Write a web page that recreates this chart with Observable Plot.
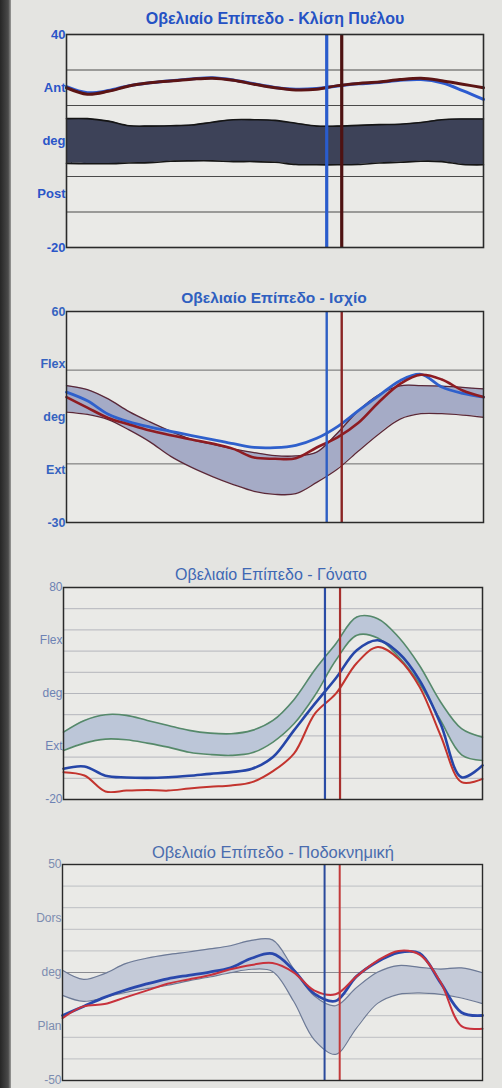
<!DOCTYPE html>
<html><head><meta charset="utf-8">
<script src="https://cdn.jsdelivr.net/npm/d3@7"></script>
<script src="https://cdn.jsdelivr.net/npm/@observablehq/plot@0.6"></script>
<style>
body{margin:0;background:#e4e4e1;width:502px;height:1088px;overflow:hidden;position:relative;font-family:"Liberation Sans",Arial,sans-serif}
#edge{position:absolute;left:0;top:0;width:11px;height:1088px;background:linear-gradient(to right,#262626,#4a4a4a 75%,#9c9c9a)}
.panel{position:absolute;left:0;width:502px}
.title{position:absolute;white-space:nowrap;transform:translate(-50%,-50%);font-family:"Liberation Sans",Arial,sans-serif}
</style></head><body>
<div id="edge"></div>
<div id="root"></div>
<script>
// gait cycle (%)
const pct = [0,5,10,15,20,25,30,35,40,45,50,55,60,65,70,75,80,85,90,95,100];
// toe-off vertical markers (% gait cycle): [blue, red]
const toeOff = [62.4, 66.0];

// ---- Pelvic tilt ----
const pelvisTitle = "Οβελιαίο Επίπεδο - Κλίση Πυέλου";
const pelvisTicks = [40,25,10,-5,-20];
const pelvisLabels = ["40","Ant","deg","Post","-20"];
const pelvisGrid = [30,20,0,-10];
const pelvisHi = [16.3,16.3,15.6,14.3,14.2,14.3,14.5,15.3,16.0,16.0,15.8,15.0,14.2,14.2,14.4,14.6,14.7,15.2,16.0,16.2,16.2];
const pelvisLo = [3.7,3.6,3.6,3.8,3.9,4.3,4.4,4.4,4.2,4.2,4.0,3.4,3.3,3.3,3.4,3.8,4.0,4.3,4.2,3.4,3.3];
const pelvisRed = [25.0,23.2,24.0,25.5,26.4,26.9,27.4,27.7,27.1,26.0,25.0,24.4,24.6,25.6,26.2,26.6,27.3,27.7,27.0,26.0,25.0];
const pelvisBlue = [25.3,23.6,24.2,25.6,26.4,27.0,27.5,27.8,27.2,26.1,25.1,24.6,24.8,25.5,26.1,26.5,27.1,27.3,26.4,24.2,21.7];

// ---- Hip ----
const hipTitle = "Οβελιαίο Επίπεδο - Ισχίο";
const hipTicks = [60,37.5,15,-7.5,-30];
const hipLabels = ["60","Flex","deg","Ext","-30"];
const hipGrid = [35,-5];
const hipHi = [28.4,26.7,22.7,17.3,12.9,8.9,5.5,3.3,1.4,-0.2,-1.5,-1.6,0.0,8.2,17.7,24.6,28.3,28.4,28.2,27.6,27.0];
const hipLo = [17.1,16.1,13.9,9.5,4.4,-1.8,-6.5,-10.4,-13.8,-16.7,-18.0,-17.7,-12.9,-7.2,0.5,7.9,14.1,16.4,16.4,15.8,14.9];
const hipRed = [23.5,19.0,14.6,11.8,9.2,7.2,5.4,3.7,1.4,-2.3,-2.8,-2.6,2.0,6.3,12.5,21.5,29.1,33.0,31.0,26.3,23.5];
const hipBlue = [25.6,21.9,16.2,12.9,10.7,8.9,7.1,5.4,3.6,2.0,1.9,2.9,5.9,10.9,17.7,24.2,30.5,33.2,27.8,25.1,23.5];

// ---- Knee ----
const kneeTitle = "Οβελιαίο Επίπεδο - Γόνατο";
const kneeTicks = [80,55,30,5,-20];
const kneeLabels = ["80","Flex","deg","Ext","-20"];
const kneeGrid = [70,60,50,40,30,20,10,0,-10];
const kneeHi = [11.8,17.3,20.0,19.7,17.3,14.9,12.6,11.3,11.0,12.6,17.3,27.1,41.2,53.5,66.1,65.3,56.5,43.1,26.0,13.4,9.4];
const kneeLo = [3.1,6.6,8.5,8.2,6.6,4.7,2.3,1.2,0.8,2.0,7.1,15.7,29.1,45.7,57.5,56.2,47.2,34.6,17.3,1.1,-1.6];
const kneeRed = [-7.1,-8.7,-16.2,-15.8,-15.5,-15.8,-14.8,-14.0,-13.4,-11.8,-6.6,1.6,20.5,29.9,44.4,51.9,46.3,33.1,10.2,-11.8,-10.3];
const kneeBlue = [-5.5,-4.4,-8.8,-9.6,-9.8,-9.5,-8.8,-7.9,-7.1,-5.5,0.0,12.6,25.2,37.2,50.4,55.1,49.1,36.2,15.7,-9.5,-3.9];

// ---- Ankle ----
const ankleTitle = "Οβελιαίο Επίπεδο - Ποδοκνημική";
const ankleTicks = [50,25,0,-25,-50];
const ankleLabels = ["50","Dors","deg","Plan","-50"];
const ankleGrid = [40,30,20,10,-10,-20,-30,-40];
const ankleZero = [0];
const ankleHi = [1.0,-3.2,-0.5,4.1,6.6,8.3,9.5,10.9,12.4,14.9,15.1,1.8,-10.9,-15.4,-7.0,0.1,3.2,2.4,1.6,2.1,-0.1];
const ankleLo = [-10.6,-13.4,-11.5,-9.2,-7.5,-5.9,-3.9,-2.1,-0.1,1.5,0.5,-13.2,-31.3,-37.9,-25.7,-14.3,-10.1,-9.4,-10.1,-11.8,-14.4];
const ankleRed = [-21.1,-15.7,-14.6,-11.5,-8.4,-5.2,-3.2,-1.3,1.5,3.5,4.4,0.1,-8.4,-10.1,-1.8,5.5,10.0,8.3,-4.4,-24.8,-26.0];
const ankleBlue = [-19.9,-15.7,-11.5,-8.1,-5.3,-2.9,-1.3,0.2,2.2,6.6,8.7,1.2,-9.9,-13.2,-1.8,5.0,9.2,8.9,-4.7,-18.5,-19.9];

const panels = [
  {top:0, height:260, ml:66, mr:19, mt:34, mb:13,
   title:pelvisTitle, tx:275, ty:19, tsize:16, tweight:"bold", tcolor:"#2552c4",
   ticks:pelvisTicks, labels:pelvisLabels, lsize:13, lweight:"bold", lcolor:"#2a55c8",
   grid:pelvisGrid, gridColor:"#4a4a4a", gridW:1.2, extraGrid:[],
   hi:pelvisHi, lo:pelvisLo, red:pelvisRed, blue:pelvisBlue,
   bandFill:"#3d4258", bandStroke:"#151515", bandW:1.6,
   redColor:"#5c1414", redW:3, blueColor:"#2d5bd0", blueW:3,
   vBlue:"#2a5ccc", vRed:"#4e1212", vW:3.2, frameW:1.6},
  {top:280, height:255, ml:66, mr:19, mt:31, mb:13,
   title:hipTitle, tx:274, ty:298, tsize:15.5, tweight:"bold", tcolor:"#2f5fc0",
   ticks:hipTicks, labels:hipLabels, lsize:12.5, lweight:"bold", lcolor:"#3563c0",
   grid:hipGrid, gridColor:"#6a6a6a", gridW:1, extraGrid:[],
   hi:hipHi, lo:hipLo, red:hipRed, blue:hipBlue,
   bandFill:"#a5abc6", bandStroke:"#5a2838", bandW:1.3,
   redColor:"#8e1c22", redW:2.6, blueColor:"#2f60cc", blueW:2.8,
   vBlue:"#2e5fc4", vRed:"#8a2424", vW:2.4, frameW:1.5},
  {top:555, height:255, ml:63, mr:20, mt:32, mb:11,
   title:kneeTitle, tx:271, ty:575, tsize:16, tweight:"normal", tcolor:"#3f68b4",
   ticks:kneeTicks, labels:kneeLabels, lsize:12, lweight:"normal", lcolor:"#6d82b4",
   grid:kneeGrid, gridColor:"#b4b6bc", gridW:1, extraGrid:[],
   hi:kneeHi, lo:kneeLo, red:kneeRed, blue:kneeBlue,
   bandFill:"#bcc6d8", bandStroke:"#55896a", bandW:1.6,
   redColor:"#c3342e", redW:2, blueColor:"#2646a8", blueW:2.6,
   vBlue:"#2a4ca6", vRed:"#a8302e", vW:2.2, frameW:1.5},
  {top:832, height:256, ml:62, mr:20, mt:32, mb:8,
   title:ankleTitle, tx:273, ty:852, tsize:16.5, tweight:"normal", tcolor:"#4a6cae",
   ticks:ankleTicks, labels:ankleLabels, lsize:12, lweight:"normal", lcolor:"#7c8cb0",
   grid:ankleGrid, gridColor:"#bdbfc3", gridW:1, extraGrid:ankleZero,
   hi:ankleHi, lo:ankleLo, red:ankleRed, blue:ankleBlue,
   bandFill:"#c4cad8", bandStroke:"#6d7a96", bandW:1.2,
   redColor:"#c8323c", redW:2, blueColor:"#2a48ac", blueW:2.8,
   vBlue:"#2a4a9c", vRed:"#c23a3a", vW:2, frameW:1.4}
];

const root = document.getElementById("root");
for (const c of panels) {
  const rows = pct.map((x,i)=>({x, lo:c.lo[i], hi:c.hi[i], red:c.red[i], blue:c.blue[i]}));
  const curve = "catmull-rom";
  const labelOf = new Map(c.ticks.map((t,i)=>[t, c.labels[i]]));
  const plot = Plot.plot({
    width:502, height:c.height,
    marginLeft:c.ml, marginRight:c.mr, marginTop:c.mt, marginBottom:c.mb,
    style:{background:"transparent", overflow:"visible"},
    x:{domain:[0,100], axis:null},
    y:{domain:[c.ticks[c.ticks.length-1], c.ticks[0]], axis:null},
    marks:[
      Plot.frame({fill:"#eaeae7", stroke:null}),
      Plot.ruleY(c.grid, {stroke:c.gridColor, strokeWidth:c.gridW}),
      Plot.ruleY(c.extraGrid, {stroke:"#8a8c92", strokeWidth:1.2}),
      Plot.areaY(rows, {x:"x", y1:"lo", y2:"hi", fill:c.bandFill, curve}),
      Plot.line(rows, {x:"x", y:"hi", stroke:c.bandStroke, strokeWidth:c.bandW, curve}),
      Plot.line(rows, {x:"x", y:"lo", stroke:c.bandStroke, strokeWidth:c.bandW, curve}),
      Plot.line(rows, {x:"x", y:"blue", stroke:c.blueColor, strokeWidth:c.blueW, curve}),
      Plot.line(rows, {x:"x", y:"red", stroke:c.redColor, strokeWidth:c.redW, curve}),
      Plot.ruleX([toeOff[0]], {stroke:c.vBlue, strokeWidth:c.vW}),
      Plot.ruleX([toeOff[1]], {stroke:c.vRed, strokeWidth:c.vW}),
      Plot.frame({stroke:"#2a2a2a", strokeWidth:c.frameW}),
      Plot.axisY(c.ticks, {tickSize:0, tickPadding:1, label:null,
        tickFormat:d=>labelOf.get(d), fontSize:c.lsize, fontWeight:c.lweight,
        color:c.lcolor, fontFamily:"Liberation Sans, Arial, sans-serif"})
    ]
  });
  const div = document.createElement("div");
  div.className = "panel";
  div.style.top = c.top + "px";
  div.appendChild(plot);
  root.appendChild(div);
  const t = document.createElement("div");
  t.className = "title";
  t.textContent = c.title;
  t.style.left = c.tx + "px";
  t.style.top = c.ty + "px";
  t.style.fontSize = c.tsize + "px";
  t.style.fontWeight = c.tweight;
  t.style.color = c.tcolor;
  root.appendChild(t);
}
</script>
</body></html>
